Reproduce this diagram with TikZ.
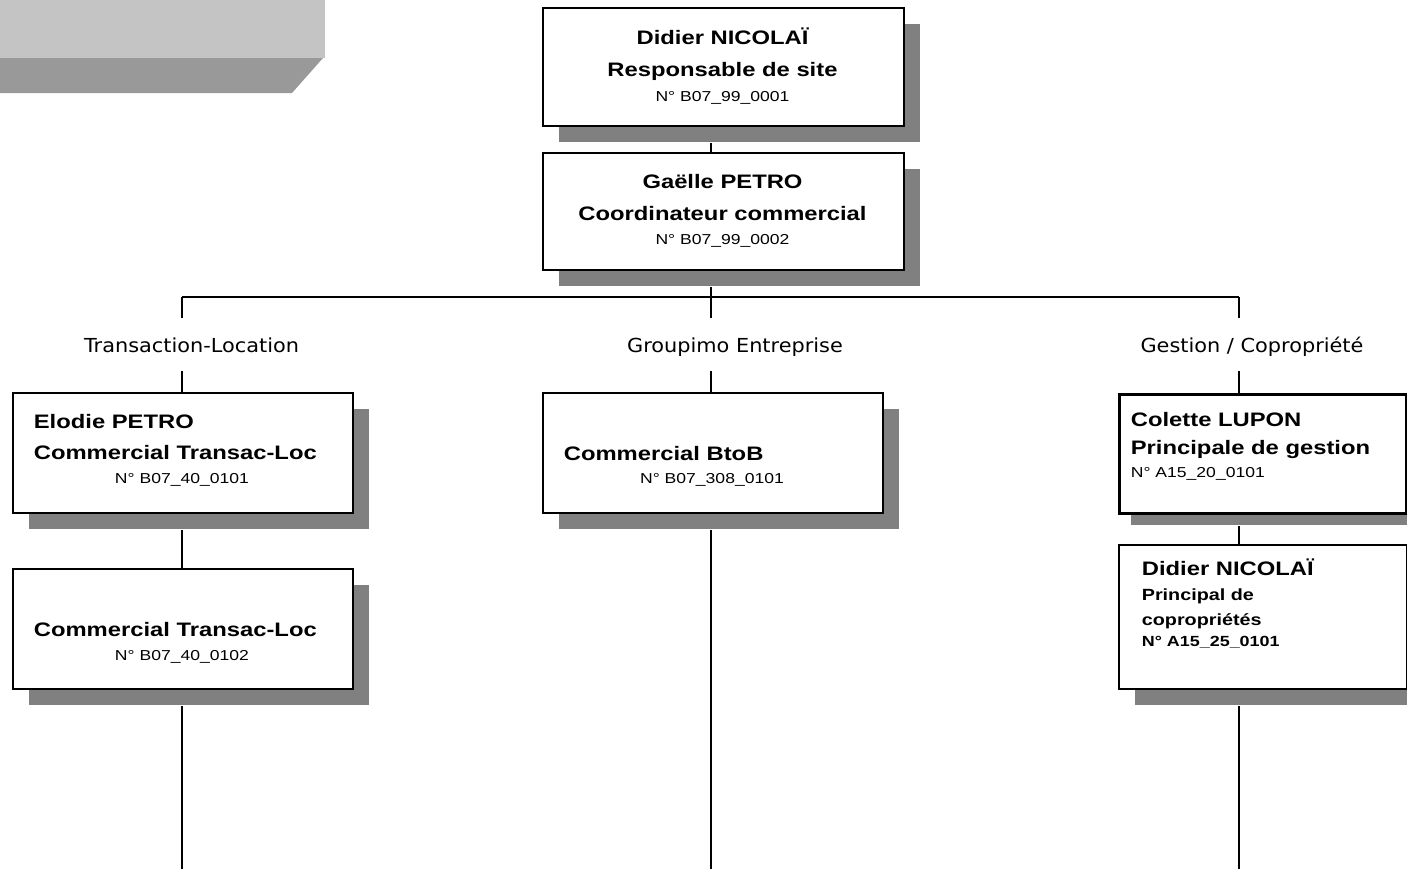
\documentclass[tikz,border=0pt]{standalone}
\usepackage{fontspec}
\setmainfont{Liberation Sans}[FakeStretch=1.22]
\newfontfamily\lblfont{DejaVu Sans}[FakeStretch=1.08]
\usetikzlibrary{shadows}
\begin{document}
\begin{tikzpicture}[x=0.5pt,y=-0.5pt,line width=0.85pt,
		box/.style={draw,fill=white,anchor=north west,inner sep=0,
			drop shadow={shadow xshift=#1,shadow yshift=-#1,fill=black!50,opacity=1}},
		box/.default=8pt,
		who/.style={font=\bfseries\fontsize{9.75}{11}\selectfont,inner sep=0},
		idno/.style={font=\fontsize{7.2}{9}\selectfont,inner sep=0},
		lbl/.style={font=\lblfont\fontsize{9.65}{11}\selectfont,inner sep=0,
			text height=16.5pt,text depth=9pt,anchor=base}]
		\useasboundingbox (0,0) rectangle (1407,869);
		% corner tab
		\fill[black!23] (0,0) rectangle (325,58);
		\fill[black!40] (0,58)--(323,58)--(292,93)--(0,93)--cycle;
		% boxes
		\node[box,minimum width=180.5pt,minimum height=59pt] (site) at (542,7) {};
		\node[box,minimum width=180.5pt,minimum height=58.5pt] (coord) at (542,152) {};
		\node[box,minimum width=170pt,minimum height=60pt] (transloc1) at (12,392) {};
		\node[box,minimum width=170pt,minimum height=60pt] (transloc2) at (12,568) {};
		\node[box,minimum width=170pt,minimum height=60pt] (btob) at (542,392) {};
		\node[box=5.5pt,line width=1.6pt,minimum width=143.5pt,minimum height=59.5pt] (gestion) at (1118,393) {};
		\node[box,minimum width=144pt,minimum height=72pt] (copro) at (1118,544) {};
		% texts
		\node[who,anchor=base] (site1) at (722.5,44) {Didier NICOLAÏ};
		\node[who,anchor=base] (site2) at (722.5,76) {Responsable de site};
		\node[idno,anchor=base] (site3) at (722.5,101) {N° B07\_99\_0001};
		\node[who,anchor=base] (coord1) at (722.5,188) {Gaëlle PETRO};
		\node[who,anchor=base] (coord2) at (722.5,220) {Coordinateur commercial};
		\node[idno,anchor=base] (coord3) at (722.5,244) {N° B07\_99\_0002};
		\node[who,anchor=base west] (tl1a) at (33,428) {Elodie PETRO};
		\node[who,anchor=base west] (tl1b) at (33,459) {Commercial Transac-Loc};
		\node[idno,anchor=base] (tl1c) at (182,483) {N° B07\_40\_0101};
		\node[who,anchor=base west] (tl2a) at (33,636) {Commercial Transac-Loc};
		\node[idno,anchor=base] (tl2b) at (182,660) {N° B07\_40\_0102};
		\node[who,anchor=base west] (btob1) at (563,460) {Commercial BtoB};
		\node[idno,anchor=base] (btob2) at (712,483) {N° B07\_308\_0101};
		\node[who,anchor=base west] (ges1) at (1130,426) {Colette LUPON};
		\node[who,anchor=base west] (ges2) at (1130,454) {Principale de gestion};
		\node[idno,anchor=base west] (ges3) at (1130,477) {N° A15\_20\_0101};
		\node[who,anchor=base west] (cop1) at (1141,575) {Didier NICOLAÏ};
		\node[who,anchor=base west,font=\bfseries\fontsize{8.1}{10}\selectfont] (cop2) at (1141,600) {Principal de};
		\node[who,anchor=base west,font=\bfseries\fontsize{8.1}{10}\selectfont] (cop3) at (1141,625) {copropriétés};
		\node[who,anchor=base west,font=\bfseries\fontsize{7.35}{9}\selectfont] (cop4) at (1141,646) {N° A15\_25\_0101};
		% labels
		\node[lbl] (translbl) at (191.5,352) {Transaction-Location};
		\node[lbl] (groupelbl) at (735,352) {Groupimo Entreprise};
		\node[lbl] (gestlbl) at (1252,352) {Gestion / Copropriété};
		% lines, starting below the shadows
		\coordinate (bus) at (711,297);
		\coordinate (busl) at (182,297);
		\coordinate (busr) at (1239,297);
		\coordinate (endl) at (182,869);
		\coordinate (endm) at (711,869);
		\coordinate (endr) at (1239,869);
		\draw ([yshift=-8pt]site.south -| bus)--(coord.north -| bus);
		\draw ([yshift=-8pt]coord.south -| bus)--(bus);
		\draw (busl)--(busr);
		\draw (busl)--(translbl.north -| busl);
		\draw (translbl.south -| busl)--(transloc1.north -| busl);
		\draw ([yshift=-8pt]transloc1.south -| busl)--(transloc2.north -| busl);
		\draw ([yshift=-8pt]transloc2.south -| busl)--(endl);
		\draw (bus)--(groupelbl.north -| bus);
		\draw (groupelbl.south -| bus)--(btob.north -| bus);
		\draw ([yshift=-8pt]btob.south -| bus)--(endm);
		\draw (busr)--(gestlbl.north -| busr);
		\draw (gestlbl.south -| busr)--(gestion.north -| busr);
		\draw ([yshift=-5.5pt]gestion.south -| busr)--(copro.north -| busr);
		\draw ([yshift=-8pt]copro.south -| busr)--(endr);
	\end{tikzpicture}
\end{document}
